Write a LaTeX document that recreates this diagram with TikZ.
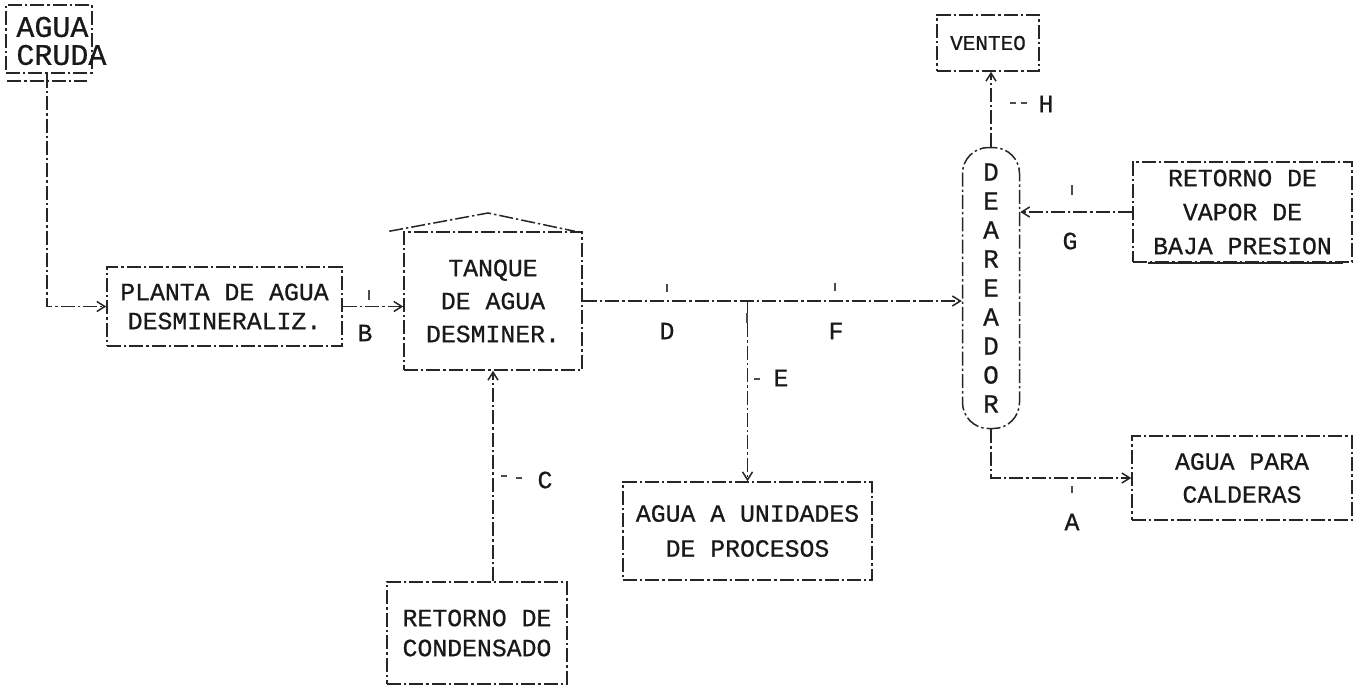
\documentclass[tikz,border=0pt]{standalone}
\usepackage{fontspec}
\setmonofont{Liberation Mono}[FakeBold=0.7]
\usetikzlibrary{arrows.meta}
\begin{document}
\begin{tikzpicture}[x=0.5pt,y=-0.5pt,
  ln/.style={line width=0.75pt, black!85, dash pattern=on 7pt off 1.5pt on 1.2pt off 1.5pt},
  box/.style={ln, draw, rectangle, inner sep=0pt, align=center, text=black!90,
    font=\ttfamily\fontsize{12.4}{16.5}\selectfont},
  flow/.style={ln, -{Straight Barb[length=4pt,width=5pt]}},
  lbl/.style={font=\ttfamily\fontsize{12.4}{15}\selectfont, inner sep=0pt, text=black!90},
  tick/.style={line width=0.6pt, black!70}
]
\useasboundingbox (0,0) rectangle (1362,686);
\fill[white] (0,0) rectangle (1362,686);

% boxes
\node[box, minimum width=43pt, minimum height=34pt] (cruda) at (49,39) {};
\node[lbl, anchor=west, align=left, font=\ttfamily\fontsize{15}{14}\selectfont] (crudatxt) at (16,41) {AGUA\\CRUDA};
\node[box, minimum width=117.5pt, minimum height=39.5pt, font=\ttfamily\fontsize{12.4}{14.5}\selectfont] (planta) at (224.5,306.5) {PLANTA DE AGUA\\DESMINERALIZ.};
\node[box, minimum width=89pt, minimum height=69pt] (tanque) at (493,301) {TANQUE\\DE AGUA\\DESMINER.};
\node[box, rounded corners=13pt, minimum width=28.5pt, minimum height=140.5pt, font=\ttfamily\fontsize{13}{14.5}\selectfont] (dea) at (991,288) {D\\E\\A\\R\\E\\A\\D\\O\\R};
\node[box, minimum width=51pt, minimum height=28pt, font=\ttfamily\fontsize{10.5}{12}\selectfont] (venteo) at (988,43) {VENTEO};
\node[box, minimum width=109.5pt, minimum height=50pt, font=\ttfamily\fontsize{12.4}{17}\selectfont] (vapor) at (1242.5,212) {RETORNO DE\\VAPOR DE\\BAJA PRESION};
\node[box, minimum width=124.5pt, minimum height=49pt, font=\ttfamily\fontsize{12.4}{17.5}\selectfont] (unid) at (747.5,531) {AGUA A UNIDADES\\DE PROCESOS};
\node[box, minimum width=90pt, minimum height=51pt, font=\ttfamily\fontsize{12.4}{15}\selectfont] (cond) at (477,633) {RETORNO DE\\CONDENSADO};
\node[box, minimum width=110pt, minimum height=42pt] (para) at (1242,478) {AGUA PARA\\CALDERAS};

% decorations of boxes
\coordinate (roof) at (488,213);
\draw[ln] ([xshift=-7pt]tanque.north west) -- (roof) -- ([xshift=-4pt]tanque.north east);
\draw[ln] ([xshift=1pt,yshift=-3.5pt]cruda.south west) -- ([xshift=-3pt,yshift=-3.5pt]cruda.south east);
\draw[line width=1.1pt, black!85] ([xshift=8pt]vapor.south west) -- ([xshift=-5pt]vapor.south east);

% connectors
\draw[flow] ([xshift=-1pt]cruda.south) |- (planta.west);
\draw[flow] (planta.east) -- (planta.east -| tanque.west);
\draw[flow] (tanque.south |- cond.north) -- (tanque.south);
\draw[flow] (tanque.east) -- (tanque.east -| dea.west);
\draw[flow] (tanque.east -| unid.north) -- (unid.north);
\draw[flow] (vapor.west) -- (vapor.west -| dea.east);
\draw[flow] (dea.north) -- (dea.north |- venteo.south);
\draw[flow] (dea.south) |- (para.west);

% ticks
\draw[tick] (369,290) -- (369,300);
\draw[tick] (667,284) -- (667,292);
\draw[tick] (835,283) -- (835,291);
\draw[tick] (747,313) -- (747,323);
\draw[tick] (501,476) -- (507,476);
\draw[tick] (516,478) -- (522,478);
\draw[tick] (754,379) -- (760,379);
\draw[tick] (1010,103) -- (1016,103);
\draw[tick] (1021,103) -- (1027,103);
\draw[tick] (1072,185) -- (1072,195);
\draw[tick] (1072,486) -- (1072,493);

% labels
\node[lbl] (lb) at (365,333) {B};
\node[lbl] (lc) at (545,480) {C};
\node[lbl] (ld) at (667,331) {D};
\node[lbl] (le) at (781,378) {E};
\node[lbl] (lf) at (836,331) {F};
\node[lbl] (lg) at (1070,241) {G};
\node[lbl] (lh) at (1046,104) {H};
\node[lbl] (la) at (1072,522) {A};
\end{tikzpicture}
\end{document}
